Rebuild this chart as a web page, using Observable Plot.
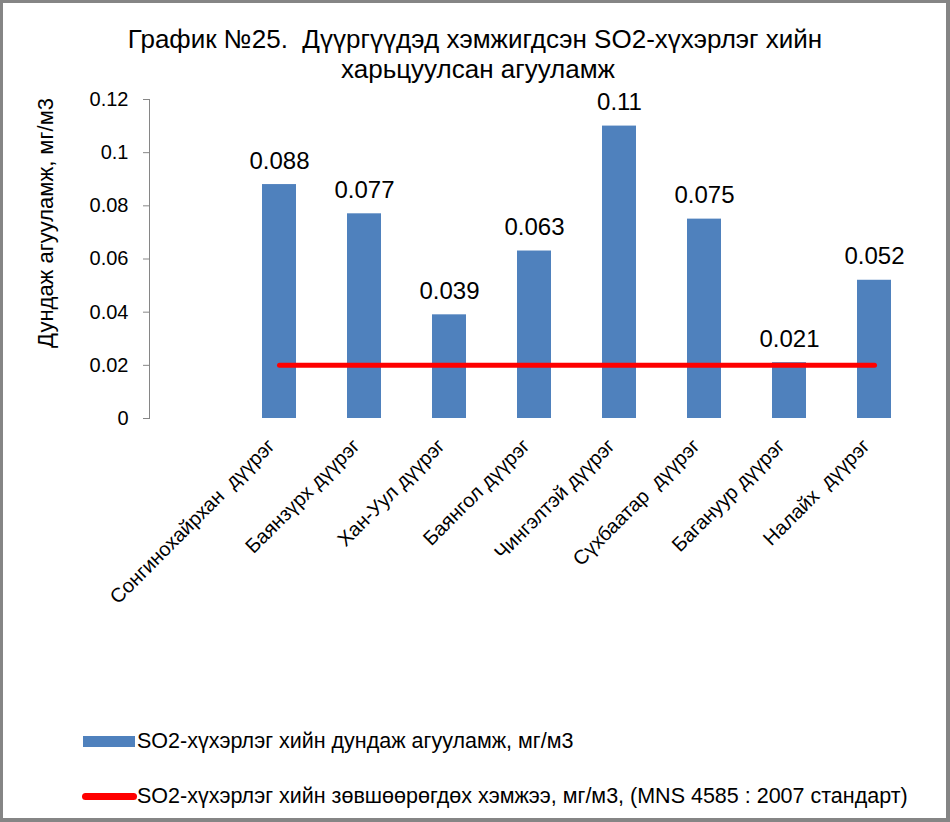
<!DOCTYPE html>
<html>
<head>
<meta charset="utf-8">
<script src="https://cdn.jsdelivr.net/npm/d3@7"></script>
<script src="https://cdn.jsdelivr.net/npm/@observablehq/plot@0.6"></script>
<style>
  html, body { margin: 0; padding: 0; background: white; }
  #wrap { position: relative; width: 950px; height: 822px; overflow: hidden; background: white;
          font-family: "Liberation Sans", Arial, sans-serif; color: #000; }
  #frame { position: absolute; left: 0; top: 0; width: 950px; height: 822px; box-sizing: border-box;
           border: 3px solid #858585; border-bottom-width: 4px; border-right-width: 4px; pointer-events: none; z-index: 5; }
  .tline { position: absolute; width: 900px; text-align: center; font-size: 26px; white-space: pre; line-height: 1; }
  #chart { position: absolute; left: 0; top: 0; }
  .leg { position: absolute; font-size: 21.5px; white-space: pre; line-height: 1; }
</style>
</head>
<body>
<div id="wrap">
  <div id="frame"></div>
  <div id="chart"></div>
</div>
<script>
// ---- data ----
const titleLines = ["График №25.  Дүүргүүдэд хэмжигдсэн SO2-хүхэрлэг хийн", "харьцуулсан агууламж"];
const yLabel = "Дундаж агууламж, мг/м3";
const categories = ["", "Сонгинохайрхан  дүүрэг", "Баянзүрх дүүрэг", "Хан-Уул дүүрэг", "Баянгол дүүрэг",
  "Чингэлтэй дүүрэг", "Сүхбаатар  дүүрэг", "Багануур дүүрэг", "Налайх  дүүрэг"];
const values = [null, 0.088, 0.077, 0.039, 0.063, 0.11, 0.075, 0.021, 0.052];
const standard = [null, 0.02, 0.02, 0.02, 0.02, 0.02, 0.02, 0.02, 0.02];
const yTicks = [0, 0.02, 0.04, 0.06, 0.08, 0.1, 0.12];
const yTickLabels = ["0", "0.02", "0.04", "0.06", "0.08", "0.1", "0.12"];
const legendLabels = ["SO2-хүхэрлэг хийн дундаж агууламж, мг/м3",
  "SO2-хүхэрлэг хийн зөвшөөрөгдөх хэмжээ, мг/м3, (MNS 4585 : 2007 стандарт)"];
const barColor = "#4F81BD";
const lineColor = "#FF0000";

const rows = categories.map((c, i) => ({c, v: values[i], s: standard[i]}));
const barRows = rows.filter(d => d.v != null);

const plot = Plot.plot({
  width: 950,
  height: 640,
  marginTop: 99,
  marginBottom: 222,
  marginLeft: 149,
  marginRight: 32,
  style: {fontFamily: "'Liberation Sans', Arial, sans-serif", fontSize: "20px", background: "transparent", color: "#000", overflow: "visible"},
  x: {domain: categories, type: "band", paddingInner: 0.6, paddingOuter: 0.3, label: null},
  y: {domain: [0, 0.12], label: null},
  marks: [
    Plot.barY(barRows, {x: "c", y: "v", fill: barColor}),
    Plot.lineY(rows, {x: "c", y: "s", stroke: lineColor, strokeWidth: 5, strokeLinecap: "round"}),
    Plot.text(barRows, {x: "c", y: "v", text: d => String(d.v), dy: -16, lineAnchor: "bottom", fontSize: 24, fill: "#000"}),
    Plot.frame({anchor: "left", stroke: "#868686", strokeOpacity: 1}),
    Plot.ruleY([0], {stroke: "#868686", x1: -Infinity}),
    Plot.axisY({ticks: yTicks, tickSize: 6, tickPadding: 15, stroke: "#868686", strokeOpacity: 1, fill: "#000",
      tickFormat: d => yTickLabels[yTicks.indexOf(d)], fontSize: 20, label: null}),
    Plot.axisX({tickSize: 0, tickRotate: -45, tickPadding: 24, dx: -8, fontSize: 20, fill: "#000", label: null}),
    Plot.text([yLabel], {frameAnchor: "left", text: d => d, rotate: -90, dx: -104, dy: -36, textAnchor: "middle", lineAnchor: "middle", fontSize: 22, fill: "#000"})
  ]
});
document.getElementById("chart").appendChild(plot);

const wrap = document.getElementById("wrap");
// title lines
const tl1 = document.createElement("div");
tl1.className = "tline"; tl1.textContent = titleLines[0];
tl1.style.left = (475 - 450) + "px"; tl1.style.top = "26px";
wrap.appendChild(tl1);
const tl2 = document.createElement("div");
tl2.className = "tline"; tl2.textContent = titleLines[1];
tl2.style.left = (478 - 450) + "px"; tl2.style.top = "56px";
wrap.appendChild(tl2);

// legend
const sw = document.createElement("div");
Object.assign(sw.style, {position: "absolute", left: "83px", top: "736px", width: "52px", height: "11px", background: barColor});
wrap.appendChild(sw);
const l1 = document.createElement("div");
l1.className = "leg"; l1.textContent = legendLabels[0];
l1.style.left = "137px"; l1.style.top = "731px";
wrap.appendChild(l1);
const ln = document.createElement("div");
Object.assign(ln.style, {position: "absolute", left: "82px", top: "793px", width: "55px", height: "7px", background: lineColor, borderRadius: "3.5px"});
wrap.appendChild(ln);
const l2 = document.createElement("div");
l2.className = "leg"; l2.textContent = legendLabels[1];
l2.style.left = "137px"; l2.style.top = "786px";
wrap.appendChild(l2);
</script>
</body>
</html>
